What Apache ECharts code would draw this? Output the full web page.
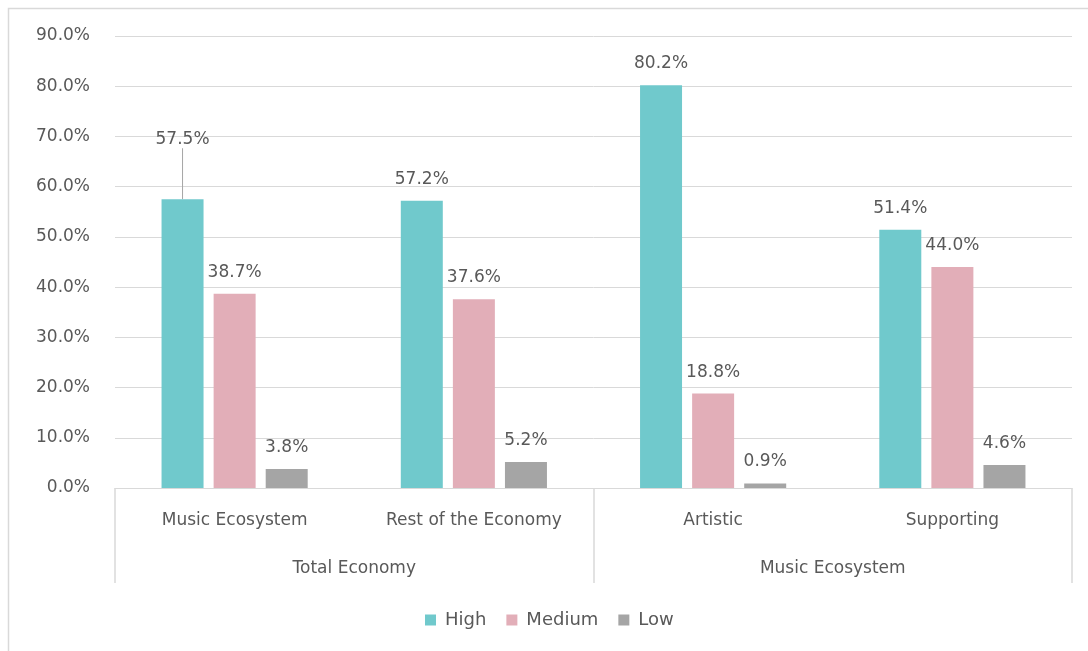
<!DOCTYPE html>
<html>
<head>
<meta charset="utf-8">
<script src="https://cdn.jsdelivr.net/npm/echarts@6/dist/echarts.min.js"></script>
<style>
html,body{margin:0;padding:0;background:#fff;}
#c{width:1088px;height:651px;}
</style>
</head>
<body>
<div id="c"></div>
<script>
var categories = ['Music Ecosystem', 'Rest of the Economy', 'Artistic', 'Supporting'];
var groups = ['Total Economy', 'Music Ecosystem'];
var seriesNames = ['High', 'Medium', 'Low'];
var highValues = [57.5, 57.2, 80.2, 51.4];
var mediumValues = [38.7, 37.6, 18.8, 44.0];
var lowValues = [3.8, 5.2, 0.9, 4.6];
var colors = ['#70C9CC', '#E2AEB8', '#A5A5A5'];

var font = 'DejaVu Sans';
var txt = '#595959';
var fs = 17;

function mkSeries(name, vals, color, idx) {
  return {
    name: name,
    type: 'bar',
    data: vals.map(function (v, i) {
      var d = { value: v };
      if (idx === 0 && i === 0) {
        d.labelLine = { show: true, lineStyle: { color: '#A6A6A6', width: 1 } };
      }
      return d;
    }),
    barWidth: 42,
    barGap: '24%',
    itemStyle: { color: color },
    label: {
      show: true,
      position: 'top',
      distance: 13,
      color: txt,
      fontFamily: font,
      fontSize: fs,
      formatter: function (p) { return p.value.toFixed(1) + '%'; }
    },
    labelLayout: function (p) {
      if (idx === 0 && p.dataIndex === 0) { return { dy: -38 }; }
      return {};
    },
    emphasis: { disabled: true }
  };
}

var chart = echarts.init(document.getElementById('c'));
chart.setOption({
  animation: false,
  textStyle: { fontFamily: font },
  graphic: [{
    type: 'rect',
    shape: { x: 8.5, y: 8.5, width: 1100, height: 700 },
    style: { fill: 'none', stroke: '#D9D9D9', lineWidth: 1.5 },
    silent: true, z: -10
  }],
  legend: {
    data: seriesNames,
    top: 606,
    left: 420,
    itemWidth: 11,
    itemHeight: 11,
    itemGap: 20,
    icon: 'rect',
    textStyle: { color: txt, fontFamily: font, fontSize: 18, padding: [0, 0, 0, 4] }
  },
  grid: { left: 115, right: 16, top: 36, bottom: 163, containLabel: false },
  xAxis: [{
    type: 'category',
    data: categories,
    position: 'bottom',
    axisLine: { show: true, lineStyle: { color: '#D9D9D9', width: 1 } },
    axisTick: { show: false },
    axisLabel: { color: txt, fontFamily: font, fontSize: fs, margin: 24 },
    splitLine: { show: false }
  }, {
    type: 'category',
    data: groups,
    position: 'bottom',
    axisLine: { show: false },
    axisTick: { show: true, length: 95, lineStyle: { color: '#D9D9D9', width: 1.5 } },
    axisLabel: { color: txt, fontFamily: font, fontSize: fs, margin: 72 },
    splitLine: { show: false }
  }],
  yAxis: {
    type: 'value',
    min: 0, max: 90, interval: 10,
    axisLine: { show: false },
    axisTick: { show: false },
    axisLabel: {
      color: txt, fontFamily: font, fontSize: fs, margin: 25,
      formatter: function (v) { return v.toFixed(1) + '%'; }
    },
    splitLine: { lineStyle: { color: '#D9D9D9', width: 1 } }
  },
  series: [
    mkSeries(seriesNames[0], highValues, colors[0], 0),
    mkSeries(seriesNames[1], mediumValues, colors[1], 1),
    mkSeries(seriesNames[2], lowValues, colors[2], 2)
  ]
});
</script>
</body>
</html>
